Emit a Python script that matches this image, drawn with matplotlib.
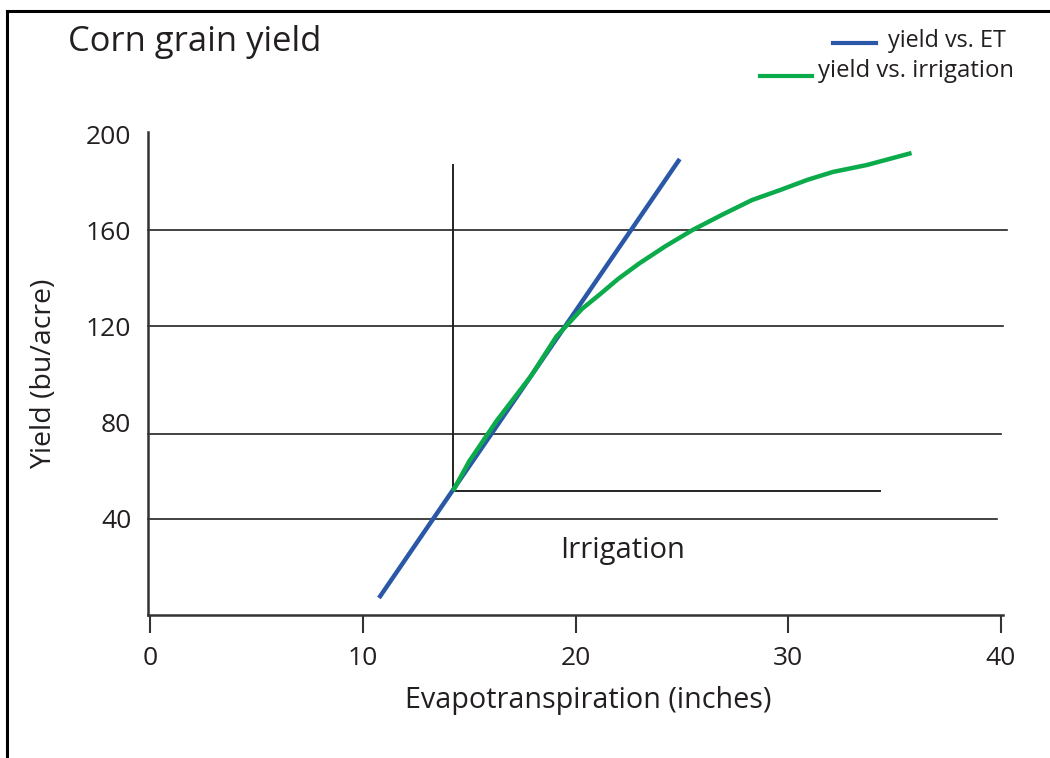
import matplotlib
matplotlib.use("Agg")
import matplotlib.pyplot as plt
from matplotlib.lines import Line2D

plt.rcParams['font.family'] = ['Open Sans', 'DejaVu Sans']

# ---- data ----
et_x = [10.76, 24.9]
et_y = [7.1, 190.0]
irr_x = [14.24, 15.0, 16.3, 17.9, 19.1, 20.3, 21.2, 22.0, 23.0, 24.2, 25.5, 26.9, 28.3, 29.6, 30.9, 32.1, 33.7, 35.8]
irr_y = [51.7, 64.0, 81.0, 99.5, 116.0, 127.5, 134.0, 140.0, 146.5, 153.5, 160.4, 166.8, 172.9, 177.0, 181.3, 184.6, 187.5, 192.5]
x_ticks = [0, 10, 20, 30, 40]
y_ticks = [40, 80, 120, 160, 200]
grid_y = [40.0, 75.4, 120.4, 160.4]
grid_xmax = [39.8, 40.0, 40.1, 40.3]
start_x, start_y = 14.24, 51.7
vline_top = 187.5
hline_right = 34.3

W, H = 1050, 758
fig = plt.figure(figsize=(W / 100, H / 100), dpi=100)

def fx(px):
    return px / W

def fy(py):
    return 1 - py / H

ax = fig.add_axes([fx(148), fy(615), (1003 - 148) / W, (615 - 132) / H])
ax.set_xlim(-0.1, 40.1)
ax.set_ylim(0, 201.25)

txt = '#231f20'
for s in ['top', 'right']:
    ax.spines[s].set_visible(False)
for s in ['left', 'bottom']:
    ax.spines[s].set_color('#333333')
    ax.spines[s].set_linewidth(1.8)

ax.set_xticks(x_ticks)
ax.set_xticklabels([str(v) for v in x_ticks])
ax.set_yticks(y_ticks)
ax.set_yticklabels([str(v) for v in y_ticks])
ax.tick_params(axis='x', length=13, width=1.5, color='#333333', pad=9,
               labelsize=19, labelcolor=txt)
ax.tick_params(axis='y', length=0, pad=12, labelsize=19, labelcolor=txt)

for gy, gx in zip(grid_y, grid_xmax):
    ax.plot([-0.1, gx], [gy, gy], color='#222222', lw=1.2, clip_on=False, zorder=1)

ax.plot([start_x, start_x], [start_y, vline_top], color='#222222', lw=1.4, zorder=2)
ax.plot([start_x, hline_right], [start_y, start_y], color='#222222', lw=1.4, zorder=2)

blue = '#2a58a6'
green = '#0bab4b'
ax.plot(et_x, et_y, color=blue, lw=3.2, solid_capstyle='butt', zorder=3)
ax.plot(irr_x, irr_y, color=green, lw=3.2, solid_capstyle='butt', zorder=4)

ax.text(22.2, 27, 'Irrigation', ha='center', va='center', fontsize=21, color=txt)

ax.set_xlabel('Evapotranspiration (inches)', fontsize=20.7, color=txt, labelpad=11)
ax.xaxis.label.set_x((588 - 148) / 855)
ax.set_ylabel('Yield (bu/acre)', fontsize=20.5, color=txt, labelpad=20)

# title
fig.text(fx(68), fy(42), 'Corn grain yield', ha='left', va='center', fontsize=24.8, color=txt)

# legend
fig.add_artist(Line2D([fx(833), fx(876)], [fy(43), fy(43)], color=blue, lw=3))
fig.text(fx(888), fy(41), 'yield vs. ET', ha='left', va='center', fontsize=16.8, color=txt)
fig.add_artist(Line2D([fx(760), fx(812)], [fy(76), fy(76)], color=green, lw=3))
fig.text(fx(818), fy(71), 'yield vs. irrigation', ha='left', va='center', fontsize=17.2, color=txt)

# frame (top and left edges visible)
fig.add_artist(Line2D([fx(7), fx(1050)], [fy(11), fy(11)], color='black', lw=2.2))
fig.add_artist(Line2D([fx(7), fx(7)], [fy(11), fy(758)], color='black', lw=2.2))

fig.savefig('out.png', dpi=100)
